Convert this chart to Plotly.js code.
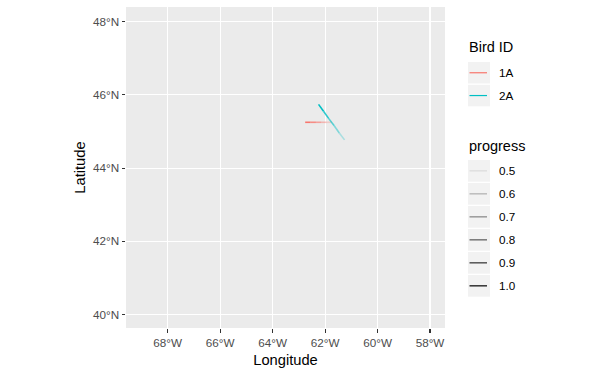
<!DOCTYPE html>
<html>
<head>
<meta charset="utf-8">
<script src="https://cdn.plot.ly/plotly-3.0.1.min.js"></script>
<style>html,body{margin:0;padding:0;background:#fff;}#chart{width:606px;height:375px;}</style>
</head>
<body>
<div id="chart"></div>
<script>
// ---- data ----
const birdIds = ['1A', '2A'];
const birdColors = ['#F8766D', '#00BFC4'];
const progress = [0.5, 0.6, 0.7, 0.8, 0.9, 1.0];
const progressLabels = ['0.5', '0.6', '0.7', '0.8', '0.9', '1.0'];
// track positions at each progress step (oldest -> newest)
const lon1A = [-61.75, -61.95, -62.15, -62.35, -62.55, -62.76];
const lat1A = [45.25, 45.25, 45.25, 45.25, 45.25, 45.25];
const lon2A = [-61.26, -61.46, -61.66, -61.86, -62.06, -62.25];
const lat2A = [44.77, 44.96, 45.16, 45.35, 45.55, 45.74];
const lonTicks = [-68, -66, -64, -62, -60, -58];
const lonLabels = ['68°W', '66°W', '64°W', '62°W', '60°W', '58°W'];
const latTicks = [40, 42, 44, 46, 48];
const latLabels = ['40°N', '42°N', '44°N', '46°N', '48°N'];

// ---- geometry ----
const W = 606, H = 375;
const M = {l: 126, r: 161, t: 7, b: 47};
const PW = W - M.l - M.r, PH = H - M.t - M.b;
const px = x => (x - M.l) / PW;
function pyp(y) { return (H - M.b - y) / PH; }

const alphaOf = p => 0.1 + (p - 0.5) / 0.5 * 0.9;

const tracks = [[lon1A, lat1A], [lon2A, lat2A]];
const traces = [];
tracks.forEach((t, b) => {
  const [lo, la] = t;
  for (let i = 0; i < lo.length - 1; i++) {
    traces.push({
      type: 'scatter', mode: 'lines',
      x: [lo[i], lo[i + 1]], y: [la[i], la[i + 1]],
      line: {color: birdColors[b], width: 1.6},
      opacity: alphaOf((progress[i] + progress[i + 1]) / 2 + 0.05),
      showlegend: false, hoverinfo: 'skip'
    });
  }
});

const shapes = [];
const annotations = [];
const keyX0 = 468, keyX1 = 490, textX = 497;
const FONT = 'Liberation Sans, Arial, sans-serif';

// Bird ID legend
annotations.push({xref: 'paper', yref: 'paper', x: px(467), y: pyp(47), xanchor: 'left', yanchor: 'middle',
  text: 'Bird ID', showarrow: false, font: {family: FONT, size: 14.5, color: '#000'}});
birdIds.forEach((id, i) => {
  const top = 62 + i * 22.8, bot = top + 21.5, mid = (top + bot) / 2;
  shapes.push({type: 'rect', xref: 'paper', yref: 'paper', x0: px(keyX0), x1: px(keyX1), y0: pyp(bot), y1: pyp(top),
    fillcolor: '#F2F2F2', line: {width: 0}, layer: 'above'});
  shapes.push({type: 'line', xref: 'paper', yref: 'paper', x0: px(469.5), x1: px(487), y0: pyp(mid), y1: pyp(mid),
    line: {color: birdColors[i], width: 1.2}, layer: 'above'});
  annotations.push({xref: 'paper', yref: 'paper', x: px(textX), y: pyp(mid), xanchor: 'left', yanchor: 'middle',
    text: id, showarrow: false, font: {family: FONT, size: 11.7, color: '#000'}});
});

// progress legend
annotations.push({xref: 'paper', yref: 'paper', x: px(467), y: pyp(146), xanchor: 'left', yanchor: 'middle',
  text: 'progress', showarrow: false, font: {family: FONT, size: 14.5, color: '#000'}});
progress.forEach((p, i) => {
  const top = 160 + i * 23, bot = top + 21.7, mid = (top + bot) / 2;
  shapes.push({type: 'rect', xref: 'paper', yref: 'paper', x0: px(keyX0), x1: px(keyX1), y0: pyp(bot), y1: pyp(top),
    fillcolor: '#F2F2F2', line: {width: 0}, layer: 'above'});
  shapes.push({type: 'line', xref: 'paper', yref: 'paper', x0: px(469.5), x1: px(487), y0: pyp(mid), y1: pyp(mid),
    line: {color: 'rgba(0,0,0,' + alphaOf(p).toFixed(2) + ')', width: 1.2}, layer: 'above'});
  annotations.push({xref: 'paper', yref: 'paper', x: px(textX), y: pyp(mid), xanchor: 'left', yanchor: 'middle',
    text: progressLabels[i], showarrow: false, font: {family: FONT, size: 11.7, color: '#000'}});
});

const axisCommon = {
  showgrid: true, gridcolor: '#FFFFFF', gridwidth: 1.1, zeroline: false,
  ticks: 'outside', ticklen: 3.5, tickwidth: 1.1, tickcolor: '#333333',
  tickfont: {family: FONT, size: 11.7, color: '#4D4D4D'},
  showline: false, fixedrange: true, automargin: false
};

const layout = {
  width: W, height: H,
  margin: M,
  paper_bgcolor: '#FFFFFF', plot_bgcolor: '#EBEBEB',
  showlegend: false, hovermode: false,
  font: {family: FONT},
  xaxis: Object.assign({}, axisCommon, {
    range: [-69.59, -57.43], tickmode: 'array', tickvals: lonTicks, ticktext: lonLabels,
    title: {text: 'Longitude', font: {family: FONT, size: 14.7, color: '#000'}, standoff: 7}
  }),
  yaxis: Object.assign({}, axisCommon, {
    range: [39.63, 48.40], tickmode: 'array', tickvals: latTicks, ticktext: latLabels,
    title: {text: 'Latitude', font: {family: FONT, size: 14.7, color: '#000'}, standoff: 3}
  }),
  shapes: shapes, annotations: annotations
};

Plotly.newPlot('chart', traces, layout, {displayModeBar: false, staticPlot: true});
</script>
</body>
</html>
